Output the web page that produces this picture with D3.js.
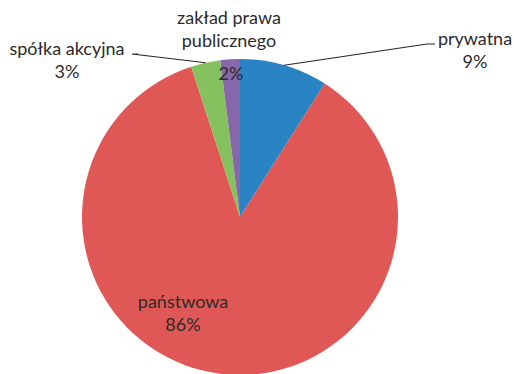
<!DOCTYPE html>
<html>
<head>
<meta charset="utf-8">
<script src="https://cdn.jsdelivr.net/npm/d3@7"></script>
<style>
  html, body { margin: 0; padding: 0; background: #fff; }
  svg { display: block; }
  text { font-family: Lato, "Open Sans", sans-serif; fill: #2b2b2b; }
</style>
</head>
<body>
<svg id="chart" width="514" height="374"></svg>
<script>
// Forma własności — udział procentowy
const categories = ["prywatna", "państwowa", "spółka akcyjna", "zakład prawa publicznego"];
const values = [9, 86, 3, 2];
const colors = ["#2A83C2", "#E05855", "#85C15E", "#8667A9"];
// label lines (name split into lines, then percentage)
const labelLines = [["prywatna"], ["państwowa"], ["spółka akcyjna"], ["zakład prawa", "publicznego"]];

const svg = d3.select("#chart");
const cx = 240, cy = 217, r = 158;

const data = categories.map((c, i) => ({ name: c, value: values[i], color: colors[i], lines: labelLines[i] }));

const pie = d3.pie().value(d => d.value).sort(null);
const arcs = pie(data);
const arc = d3.arc().innerRadius(0).outerRadius(r);

const g = svg.append("g").attr("transform", `translate(${cx},${cy})`);

g.selectAll("path.slice")
  .data(arcs)
  .join("path")
  .attr("class", "slice")
  .attr("d", arc)
  .attr("fill", d => d.data.color);

// label placement (relative to pie centre): anchor x, first baseline y, leader bend
const labelLayout = [
  { x: 235, y: -172, bend: [187, -173], end: [195, -173] },
  { x: -57, y: 91 },
  { x: -173, y: -162, bend: [-108, -163], end: [-102, -163] },
  { x: -11, y: -193 }
];

const fmt = v => Math.round(v) + "%";
const lineH = 23;
const fontSize = 18;

arcs.forEach((a, i) => {
  const L = labelLayout[i];
  const lines = a.data.lines;
  // percentage of the small purple slice sits inside the pie, under its name
  const pctY = i === 3 ? -137 : L.y + lines.length * lineH;

  lines.forEach((t, k) => {
    g.append("text")
      .attr("x", L.x)
      .attr("y", L.y + k * lineH)
      .attr("text-anchor", "middle")
      .attr("font-size", fontSize)
      .text(t);
  });
  g.append("text")
    .attr("x", i === 3 ? -9 : L.x)
    .attr("y", pctY)
    .attr("text-anchor", "middle")
    .attr("font-size", fontSize)
    .text(fmt(a.data.value));

  if (L.bend) {
    const mid = (a.startAngle + a.endAngle) / 2;
    const p0 = [Math.sin(mid) * r, -Math.cos(mid) * r];
    g.append("polyline")
      .attr("points", [p0, L.bend, L.end].map(p => p.join(",")).join(" "))
      .attr("fill", "none")
      .attr("stroke", "#262626")
      .attr("stroke-width", 1.1);
  }
});
</script>
</body>
</html>
